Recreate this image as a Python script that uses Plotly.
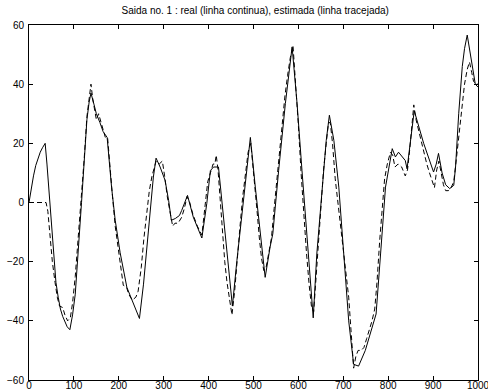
import plotly.graph_objects as go

real_x = [0, 5, 10, 15, 20, 25, 30, 36, 40, 44, 48, 52, 56, 60, 65, 70, 75, 80, 85, 91,
          97, 103, 110, 117, 123, 129, 134, 138, 145, 150, 158, 165, 174, 177, 184, 192, 203,
          218, 232, 246, 255, 266, 277, 283, 292, 303, 311, 317, 326, 335, 340, 353, 366,
          385, 396, 404, 411, 422, 430, 441, 453, 463, 478, 493, 504, 515, 526, 537, 543,
          556, 571, 586, 597, 608, 619, 630, 633, 641, 653, 662, 669, 679, 690, 701, 712,
          723, 734, 749, 764, 773, 783, 794, 809, 816, 823, 829, 838, 842, 850, 858, 879,
          901, 907, 912, 920, 928, 937, 946, 950, 957, 965, 970, 976, 981, 987, 994, 1000]
real_y = [0, 5, 9, 12.5, 15, 17, 18.5, 20, 13, 5, -3, -13, -21, -27, -32, -36, -38.5, -40.5, -42, -43,
          -38, -31, -17, 0, 14, 28, 34, 37, 33, 30, 27, 24, 22, 16.6, 5, -6, -17,
          -28.7, -34, -39.2, -27.6, -10.6, 8.6, 15, 12, 7.5, 0.7, -6, -5.4, -4.4, -2.7, 2.4, -5,
          -12, -0.3, 10.8, 12, 12, -0.5, -17.4, -35, -19.7, 1.8, 22, 5.2, -10.5, -25.3, -15, -10.6,
          10.8, 33.5, 52.6, 33.5, 10.8, -11.8, -35.5, -39, -17.4, 5.2, 21, 29.5, 21, 5.2, -17.4, -40,
          -54.7, -55.3, -50, -42.3, -37.7, -17.4, 5.2, 18.2, 15.4, 17, 16, 14.2, 11.4, 21, 31, 20,
          10.3, 13, 16.6, 10, 6, 4.7, 5.8, 12, 30, 46, 52, 56.6, 52, 45, 40, 39]

est_x = [0, 38, 42, 47, 52, 58, 63, 68, 75, 80, 86, 92, 97, 103, 110, 117, 123, 129, 135, 138,
         142, 147, 150, 155, 160, 165, 170, 175, 180, 186, 192, 198, 204, 210, 217, 222, 230,
         238, 243, 250, 256, 262, 268, 274, 280, 283, 290, 297, 302, 308, 315, 320, 325, 332,
         340, 346, 352, 358, 365, 375, 385, 392, 398, 404, 410, 414, 417, 421, 426, 431, 436,
         441, 446, 452, 458, 464, 470, 476, 482, 488, 494, 498, 503, 508, 513, 518, 523, 528,
         534, 540, 546, 552, 558, 564, 570, 576, 582, 588, 594, 600, 606, 612, 618, 624, 629,
         634, 638, 644, 650, 656, 662, 667, 671, 676, 682, 688, 694, 700, 706, 712, 718, 723,
         728, 733, 740, 746, 752, 758, 764, 770, 775, 781, 787, 792, 798, 805, 810, 815, 822,
         830, 838, 843, 848, 853, 857, 862, 868, 874, 880, 886, 892, 898, 903, 908, 913, 918,
         923, 928, 934, 940, 946, 952, 958, 964, 970, 976, 981, 986, 990, 995, 1000]
est_y = [0, 0, -3, -12, -20, -27, -32, -35, -35.5, -38, -40, -39, -34, -25, -12, 2, 15, 29, 37, 40,
         35, 31, 28, 30, 27, 25, 22, 22, 14, 2, -8, -15, -21, -28, -28.5, -31, -33,
         -32, -30, -22, -12, -3, 4, 9, 12, 14, 13, 14, 9, 2, -4, -8, -7, -7,
         -5, -2, 2, 0, -4, -8, -11, -2, 7, 10, 13, 13, 16, 11, 0, -11, -20,
         -27, -32, -38, -30, -18, -8, 2, 10, 17, 20, 14, 6, -3, -12, -19, -23, -22,
         -17, -12, -2, 8, 18, 28, 36, 43, 49, 53, 40, 26, 10, -5, -17, -28, -35,
         -37, -28, -13, 0, 11, 20, 27, 27, 20, 8, 0, -7, -14, -22, -32, -45, -56,
         -52, -50, -50, -49, -46, -43, -40, -36, -27, -13, -1, 8, 13, 17, 16, 12, 13,
         12, 9, 11, 18, 26, 33, 28, 24, 20, 16, 13, 10, 7, 5, 11, 14, 10,
         6, 4, 4, 5, 7, 15, 24, 33, 40, 45, 47.5, 44, 41, 40, 40]

x_ticks = [0, 100, 200, 300, 400, 500, 600, 700, 800, 900, 1000]
y_ticks = [-60, -40, -20, 0, 20, 40, 60]
title_text = "Saida no. 1 : real (linha continua), estimada (linha tracejada)"

fig = go.Figure()
fig.add_trace(go.Scatter(x=real_x, y=real_y, mode="lines",
                         line=dict(color="black", width=1)))
fig.add_trace(go.Scatter(x=est_x, y=est_y, mode="lines",
                         line=dict(color="black", width=1, dash="5px,3px")))

axis_common = dict(showgrid=False, zeroline=False, showline=True, linecolor="black",
                   linewidth=1, mirror="ticks", ticks="inside", ticklen=4, automargin=False,
                   ticklabeloverflow="allow",
                   tickcolor="black", tickfont=dict(family="Liberation Sans, Arial", size=10, color="black"))

fig.update_layout(
    width=488, height=392,
    margin=dict(l=29, r=10, t=25, b=12, autoexpand=False),
    paper_bgcolor="white", plot_bgcolor="white",
    showlegend=False,
    title=dict(text=title_text, x=0.523, xanchor="center", y=0.973, yanchor="middle",
               font=dict(family="Liberation Sans, Arial", size=10, color="black")),
    xaxis=dict(range=[0, 1000], tickvals=x_ticks, ticklabelstandoff=-4, **axis_common),
    yaxis=dict(range=[-60, 60], tickvals=y_ticks, ticklabelstandoff=2, **axis_common),
)

fig.write_html("out.html")
